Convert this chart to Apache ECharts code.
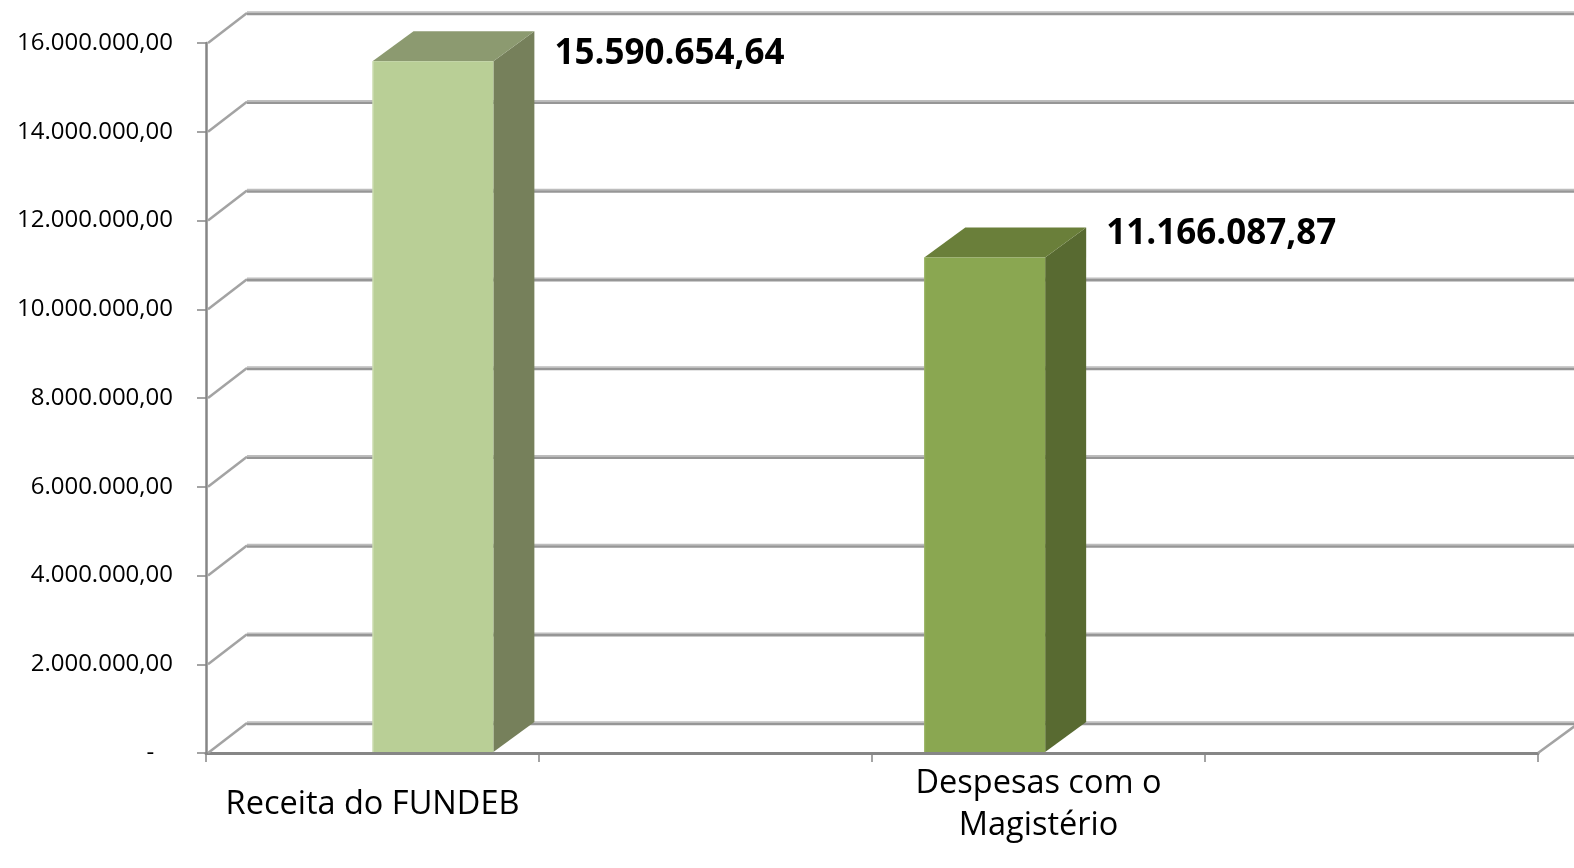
<!DOCTYPE html>
<html>
<head>
<meta charset="utf-8">
<script src="https://cdn.jsdelivr.net/npm/echarts@6/dist/echarts.min.js"></script>
<style>
html,body{margin:0;padding:0;background:#fff;}
#chart{width:1574px;height:868px;}
</style>
</head>
<body>
<div id="chart"></div>
<script>
// ---- data ----
const categories = ['Receita do FUNDEB', '', 'Despesas com o\nMagistério', ''];
const values = [15590654.64, null, 11166087.87, null];
const yTicks = [0, 2000000, 4000000, 6000000, 8000000, 10000000, 12000000, 14000000, 16000000];

// ---- style / layout ----
const FONT = '"Open Sans", sans-serif';
const DEPTH_X = 41, DEPTH_Y = -30;
const barWidthFrac = 0.363;
const barShiftFrac = {0: 0.0, 2: -0.343};
const labelDy = {0: -7, 2: -23};
const barColors = {
  0: {front: '#b9cf96', top: '#8c9a70', side: '#76805b', edge: '#d4e2bd'},
  2: {front: '#8aa751', top: '#6a7f3a', side: '#586a31', edge: '#9cb667'}
};

function fmt(v, dec) {
  const s = v.toFixed(dec);
  const parts = s.split('.');
  const intp = parts[0].replace(/\B(?=(\d{3})+(?!\d))/g, '.');
  return dec ? intp + ',' + parts[1] : intp;
}

const barData = [];
values.forEach((v, i) => { if (v != null) barData.push([i, v]); });
const gridData = yTicks.map(v => [0, v]);

const chart = echarts.init(document.getElementById('chart'), null, {renderer: 'canvas'});
chart.setOption({
  backgroundColor: '#ffffff',
  animation: false,
  grid: {left: 206, right: 36, top: 43, bottom: 115, containLabel: false},
  xAxis: {
    type: 'category',
    data: categories,
    boundaryGap: true,
    axisLine: {show: true, lineStyle: {color: '#868686', width: 3}},
    axisTick: {show: true, length: 9, interval: 0, lineStyle: {color: '#868686', width: 1.5}},
    axisLabel: {interval: 0, fontFamily: FONT, fontSize: 32.5, color: '#000', verticalAlign: 'middle', margin: 52, lineHeight: 42}
  },
  yAxis: {
    type: 'value',
    min: 0, max: 16000000, interval: 2000000,
    axisLine: {show: true, lineStyle: {color: '#868686', width: 2.5}},
    axisTick: {show: true, length: 9, lineStyle: {color: '#868686', width: 1.5}},
    splitLine: {show: false},
    axisLabel: {
      fontFamily: FONT, fontSize: 24, color: '#000', margin: 33,
      formatter: v => v === 0 ? '-   ' : fmt(v, 2)
    }
  },
  series: [
    {
      type: 'custom',
      z: 1,
      clip: false,
      silent: true,
      data: gridData,
      encode: {x: 0, y: 1},
      renderItem: function (params, api) {
        const cs = params.coordSys;
        const y = api.coord([0, api.value(1)])[1];
        const x0 = cs.x, x1 = cs.x + cs.width;
        const children = [
          {type: 'line', shape: {x1: x0 + 2, y1: y, x2: x0 + DEPTH_X, y2: y + DEPTH_Y},
           style: {stroke: '#a3a3a3', lineWidth: 2.5}},
          {type: 'line', shape: {x1: x0 + DEPTH_X, y1: y + DEPTH_Y - 1, x2: x1 + DEPTH_X, y2: y + DEPTH_Y - 1},
           style: {stroke: '#bdbdbd', lineWidth: 1.5}},
          {type: 'line', shape: {x1: x0 + DEPTH_X, y1: y + DEPTH_Y + 1, x2: x1 + DEPTH_X, y2: y + DEPTH_Y + 1},
           style: {stroke: '#969696', lineWidth: 2.5}}
        ];
        if (api.value(1) === 0) {
          children.push({type: 'line', shape: {x1: x1, y1: y, x2: x1 + DEPTH_X, y2: y + DEPTH_Y},
            style: {stroke: '#a3a3a3', lineWidth: 2.5}});
        }
        return {type: 'group', children: children};
      }
    },
    {
      type: 'custom',
      z: 5,
      clip: false,
      silent: true,
      data: barData,
      encode: {x: 0, y: 1},
      renderItem: function (params, api) {
        const idx = api.value(0);
        const v = api.value(1);
        const top = api.coord([idx, v]);
        const base = api.coord([idx, 0]);
        const slot = api.size([1, 0])[0];
        const w = slot * barWidthFrac;
        const xl = top[0] + barShiftFrac[idx] * slot;
        const yt = top[1], yb = base[1] - 1;
        const c = barColors[idx];
        return {
          type: 'group',
          children: [
            {type: 'polygon', shape: {points: [[xl + w, yt], [xl + w + DEPTH_X, yt + DEPTH_Y], [xl + w + DEPTH_X, yb + DEPTH_Y], [xl + w, yb]]},
             style: {fill: c.side}},
            {type: 'polygon', shape: {points: [[xl, yt], [xl + DEPTH_X, yt + DEPTH_Y], [xl + w + DEPTH_X, yt + DEPTH_Y], [xl + w, yt]]},
             style: {fill: c.top}},
            {type: 'rect', shape: {x: xl, y: yt, width: w, height: yb - yt},
             style: {fill: c.front}},
            {type: 'line', shape: {x1: xl + 0.5, y1: yt, x2: xl + 0.5, y2: yb},
             style: {stroke: c.edge, lineWidth: 1}},
            {type: 'text', x: xl + w + DEPTH_X + 20, y: yt + labelDy[idx],
             style: {text: fmt(v, 2), fontFamily: FONT, fontWeight: 'bold', fontSize: 35,
                     fill: '#000', textAlign: 'left', textVerticalAlign: 'middle'}}
          ]
        };
      }
    }
  ]
});
</script>
</body>
</html>
